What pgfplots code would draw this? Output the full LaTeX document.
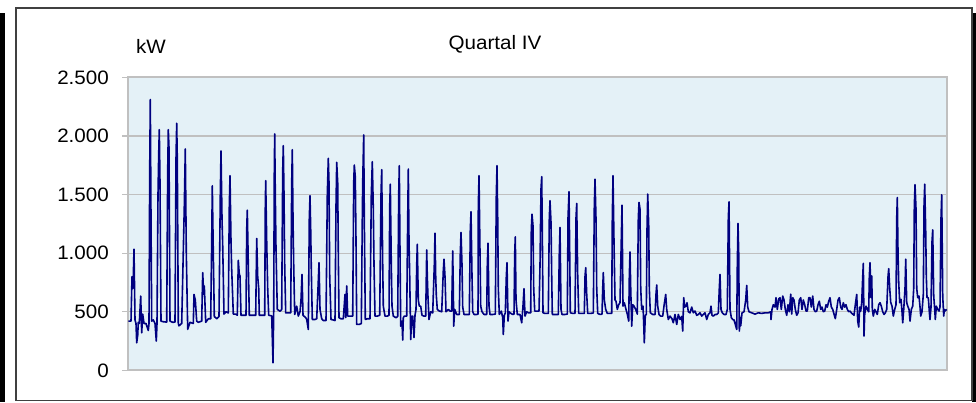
\documentclass[border=0pt]{standalone}
\usepackage{pgfplots}
\pgfplotsset{compat=1.18}
\usepackage{fontspec}
\setmainfont[FakeStretch=1.06]{Liberation Sans}
\definecolor{bgblue}{HTML}{E4F1F7}
\definecolor{navyline}{HTML}{000080}
\definecolor{gridgray}{HTML}{C0C0C0}
\begin{document}
\fontsize{19.5}{23}\selectfont
\begin{tikzpicture}[x=1bp,y=1bp]
\useasboundingbox (0,0) rectangle (976,402);
\fill[white] (0,0) rectangle (976,402);
\fill[black] (0,0) rectangle (5,389);
\fill[black] (972,0) rectangle (976,389);
\draw[black!75, line width=1.5bp] (16,1.5) rectangle (972,394);
\node[anchor=base] at (495,353) {Quartal IV};
\node[anchor=base west, inner sep=0pt] at (136,349) {kW};
\begin{axis}[
  at={(128,27)}, anchor=south west,
  scale only axis, width=819bp, height=293bp,
  xmin=128, xmax=947, ymin=0, ymax=2500,
  xtick=\empty,
  ytick={0,500,1000,1500,2000,2500},
  yticklabels={0,500,1.000,1.500,2.000,2.500},
  ytick pos=left, tick align=outside, major tick length=6bp,
  tick style={gridgray, line width=1.2bp},
  ymajorgrids, grid style={gridgray, line width=1.2bp},
  axis line style={draw=gridgray, line width=2.2bp},
  axis background/.style={fill=bgblue},
  yticklabel style={font=\fontsize{19.5}{23}\selectfont, anchor=east, inner sep=0pt, xshift=-13bp},
  clip=true,
]
\addplot[navyline, line width=1.6bp, line join=round] coordinates {
(128.3,420)(131,420)(132,800)(133,700)(134,1033)(135,430)(136,400)(136.7,235)(137.7,300)(138.3,410)(139.3,400)(140.7,634)(141.7,320)(142.7,480)(144,400)(146,400)(148.3,340)
(149,400)(149.7,1700)(150.3,2311)(151,1300)(151.7,420)(153.3,430)(155,400)(156.3,250)(157,400)
(158,1500)(158.7,1846)(159.3,2054)(160,1600)(161,420)(163.3,415)(166.7,412)
(167.7,1700)(168.3,2054)(169,1900)(170,420)(172.7,410)(175,412)
(176,1800)(176.7,2108)(177.3,1800)(178.3,400)(179,380)(181.7,400)
(184.3,1400)(185.3,1889)(186.3,1000)(187.7,350)(190,410)(193.3,400)
(194,648)(195.3,600)(196.7,420)(198.3,410)(201.7,420)(202.7,834)(203.7,650)(204.3,720)(205.7,410)
(208.3,440)(210.7,440)(211.7,1100)(212.3,1575)(213.3,1000)(214.3,460)(216.7,440)(219,460)
(220.3,1500)(221,1872)(222,1300)(222.7,1062)(224,480)(226,500)(228.3,490)
(229.3,1400)(230,1661)(231,1100)(231.7,860)(233.3,480)(235.7,480)(237.3,470)
(238.3,939)(239.3,820)(240,805)(241,470)(243.3,470)(246,470)
(246.7,1200)(247.3,1367)(248.3,900)(249.3,470)(253.3,470)(255.7,470)
(256.7,1125)(257.7,800)(258.7,700)(259.3,470)(263.3,470)(264.7,470)
(265.3,1400)(265.7,1618)(266.7,1100)(267.7,700)(268.7,470)(271.7,465)(273,64)(273.7,500)
(274.3,1700)(274.7,2017)(275.3,1500)(276,1033)(277.3,520)(280,505)(281.7,520)
(282.7,1700)(283.3,1917)(284,1500)(284.7,900)(285.7,490)(288.3,490)(290.7,490)
(291.7,1600)(292.3,1883)(293,1300)(293.7,900)(294.7,477)(296.7,548)(298.3,463)
(300,500)(301,600)(302,819)(303,470)(305.7,450)(306.7,434)(308.3,349)
(309.3,1300)(310,1490)(310.7,1200)(311.3,862)(312.3,434)(315,434)(316.7,440)
(318,700)(319,919)(320,520)(321.7,440)(323.3,425)(326,425)
(327.3,1500)(328.3,1809)(329,1600)(329.7,805)(331,434)(333.3,430)(335,425)
(336,1400)(336.7,1775)(337.7,1600)(338.3,1000)(339,449)(341,440)(343.3,440)
(345,648)(345.7,450)(346.7,720)(347.7,463)(350.7,463)(352.7,463)
(353.7,1600)(354.3,1752)(355.3,1650)(356,1100)(356.7,392)(359.3,392)(361.3,400)
(362.3,1300)(362.7,1604)(363.7,2009)(364.3,1300)(365.3,434)(367.3,440)(370,440)
(371.3,1500)(372.3,1780)(373.3,1380)(374,900)(375,463)(377.3,463)(379.7,470)
(381,1500)(381.7,1712)(382.7,900)(383.3,548)(385,463)(387.3,463)(389,470)
(389.7,1400)(390.3,1589)(391.3,900)(392,548)(393.3,463)(396,449)(397.7,460)
(398.7,1500)(399.3,1746)(400,1000)(400.7,377)(402,420)(402.7,258)(403.3,450)(404.3,463)(406.7,463)
(407.7,1300)(408.3,1718)(409,1100)(409.7,805)(410.7,263)(411.7,460)(412.7,463)(414,280)(415,470)
(416,520)(416.7,900)(417.3,1076)(418.3,600)(419.3,548)(420.7,548)(422,470)(424,463)(425.7,463)
(426.7,1028)(427.3,800)(428,620)(429,434)(430.7,500)(432.7,490)
(434.3,900)(435,1170)(435.7,800)(436.3,640)(437.3,520)(439.3,506)(441.7,500)
(443.3,850)(444,948)(445,800)(446,500)(448.3,520)(450,506)(451.7,506)
(452.7,1019)(453.3,700)(453.7,377)(454.7,520)(456.7,477)(459.3,477)
(460.3,1000)(461,1176)(462,900)(462.7,540)(464,477)(466.7,477)(469.3,477)
(470.3,1200)(471,1353)(472,800)(472.7,500)(474,477)(476.7,477)(478,480)
(478.3,1400)(479,1661)(480,1000)(480.7,548)(482,500)(484,477)(486.7,477)
(487.3,900)(488,1085)(489,548)(490,477)(492.7,477)(495.3,480)
(496.3,1500)(497,1746)(497.7,1300)(498.3,700)(499.3,477)(501.3,506)(502.7,450)(503.3,306)(504.3,470)(505.3,490)
(506.3,800)(507,919)(508,420)(509,500)(510,491)(512.7,477)(514,480)
(514.7,1000)(515.3,1139)(516,600)(517.3,477)(520,477)(521.7,406)(523,550)(524,697)(525,463)(526.7,500)(528.3,491)(530.7,491)
(531.3,1200)(532,1333)(533,1233)(533.7,700)(534.7,506)(536.7,506)(539,506)
(540,900)(541,1550)(541.7,1652)(542.3,1200)(543,491)(545,486)(548.3,486)
(549.3,1300)(550,1447)(551,1261)(551.7,800)(552.3,477)(555,477)(558.3,477)
(559.3,1000)(560,1219)(561,520)(562,477)(565,477)(567.3,480)
(568,1300)(569,1524)(569.7,1000)(570.3,491)(572.7,486)(575,486)
(576,1300)(576.7,1424)(577.7,805)(578.7,486)(581.7,486)(584.3,486)
(585,800)(585.7,876)(586.7,650)(587.7,486)(590.7,486)(593.3,490)
(594.3,1400)(595,1632)(596,1290)(596.7,700)(597.7,486)(600,477)(602,480)
(602.7,700)(603.3,834)(604.3,600)(605.7,520)(607.3,486)(610,486)(611.7,486)
(612.3,1300)(613,1661)(614,1090)(615,600)(616,590)(617.3,520)(618.7,560)
(620,577)(621,1000)(622,1410)(623,548)(624.3,577)(626,520)
(627.3,480)(628.7,420)(629.3,800)(630,1010)(630.7,700)(631.7,377)(632.7,560)(634,548)(635.7,520)
(637.3,480)(638.3,1300)(639,1433)(640,1376)(640.7,700)(641.7,520)(643,548)(643.7,400)(644.3,235)(645.3,470)(646.3,477)
(647,1200)(647.7,1504)(648.7,1233)(649.3,700)(650.3,491)(652.7,477)(655,477)
(656,650)(656.7,728)(657.7,548)(659,477)(660.7,463)(662.7,463)(664,550)(665.7,648)(666.7,520)(668.3,434)(670,463)(672,440)(673.3,406)(675,477)(676.7,392)(678.3,477)(680,434)(681.7,460)(682.7,335)(683.7,620)(684.7,540)(686,548)(687,577)(688.3,500)(690,491)(691.7,540)(693.3,491)(695,506)(696.7,470)(698.3,477)(700,491)(701.7,463)(703.3,477)(705,491)(706.7,434)(708.3,477)(710,491)(711,548)(712,470)(713.3,463)(715,477)(716.7,477)(718.3,491)(719.3,700)(720,819)(721,520)(722.3,491)(724,477)(726,477)(727.3,520)
(728.3,1300)(729,1438)(730,520)(731.3,450)(732.7,434)(734,430)(735.3,392)(736.7,349)(737.3,900)(738,1253)(738.7,1000)(739.3,335)(740.3,450)(740.7,380)(742,490)(744,500)(745.7,600)(746.7,725)(747.7,540)(749,500)(751.7,491)(755,480)(758.3,491)(761.7,486)(765,491)(768.3,491)(770.7,500)(771,434)(772,520)
(773.3,560)(775,540)(776,620)(777.3,520)(778.7,610)(780,620)(781.3,520)(782.7,634)(784,600)(785.3,520)(786.7,470)(788,560)(789.3,500)(790.7,650)(791.7,480)(792.7,620)(794,600)(795.3,520)(796.7,470)(798,490)(799.3,600)(800.7,620)(802,520)(803.3,600)(804.7,560)(806,506)(807.3,506)(808.7,620)(810,620)(811.3,540)(812.7,634)(814,520)(815.3,500)(816.7,506)(818,560)(819.3,590)(820.7,520)(822,540)(823.3,500)(824.7,506)(826,560)(827.3,540)(828.7,590)(830,620)(831.3,540)(832.7,520)(834,480)(835.3,441)(836.7,520)(838,600)(839.3,620)(840.7,540)(842,520)(843.3,577)(844.7,540)(846,560)(847.3,520)(848.7,500)(850,506)(851.3,491)(852.7,480)(854,470)(855.3,560)(856.7,648)(857.7,420)(858.7,370)(859.7,540)(860.7,506)(861.7,577)
(862.7,800)(863.3,913)(863.7,600)(864,292)(864.7,480)(866,548)(867.3,520)(868.7,500)
(869.3,800)(870,919)(871,620)(871.7,805)(872.3,520)(873.3,463)(874.7,520)(876,500)(877.3,477)(878.7,560)(880,577)(881.3,548)(882.7,500)(884,477)(885.3,491)(886.7,520)
(888,800)(888.7,868)(889.7,700)(890.7,580)(892,548)(893.3,463)(894.7,520)(896,560)
(896.7,1300)(897.3,1475)(898,1000)(898.7,750)(899.7,577)(901,606)(902,500)(902.7,406)(903.7,520)(905,700)
(905.7,948)(906.7,577)(907.7,548)(909,520)(910,420)(911.3,520)(912.7,548)(913.7,700)
(914.3,1400)(915,1584)(916,1376)(916.7,700)(917.7,620)(919,634)(920,540)(920.7,463)(922,500)(923.3,650)
(924,1400)(924.7,1589)(925.7,1180)(926.3,800)(927,620)(928.3,620)(929.3,500)(930,434)(931,540)
(932,1100)(932.7,1199)(933.7,634)(934.7,520)(935.3,434)(936.3,548)(937.7,520)(939,506)(940,540)
(941,1300)(941.7,1498)(942.7,634)(943.7,463)(944.3,520)(945,506)(946.7,520)
};
\end{axis}
\end{tikzpicture}
\end{document}
